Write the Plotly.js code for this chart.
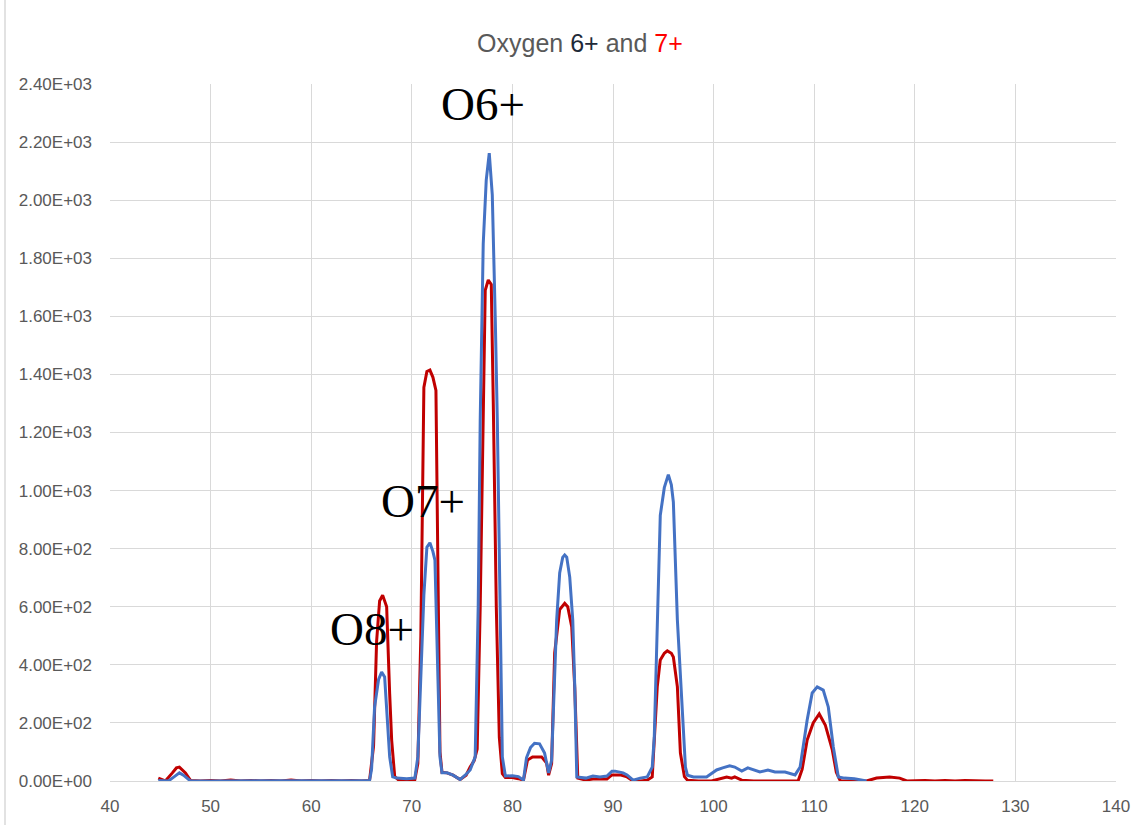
<!DOCTYPE html>
<html>
<head>
<meta charset="utf-8">
<script src="https://cdn.plot.ly/plotly-3.0.1.min.js"></script>
<style>
  html, body { margin: 0; padding: 0; background: #ffffff; }
  #chart { width: 1135px; height: 825px; }
</style>
</head>
<body>
<div id="chart"></div>
<script>
// O7+ (red) series
const xO7 = [44.8,45.5,46.2,46.6,46.9,47.5,48.0,49,50,51,52,53,54,55,56,57,58,59,60,61,62,63,64,65,65.8,
  66.2,66.5,66.8,67.1,67.5,67.8,68.0,68.3,68.7,69.5,70.3,70.6,70.9,71.2,71.5,71.8,72.1,72.4,72.6,72.8,73.0,
  73.5,74.1,74.8,75.4,75.8,76.2,76.5,76.8,77.0,77.3,77.6,77.9,78.1,78.4,78.7,79.0,79.3,80.0,80.6,81.1,
  81.5,82.0,82.9,83.4,83.6,83.9,84.2,84.7,85.2,85.5,85.9,86.2,86.5,87.3,88.0,89.4,89.9,90.7,91.4,92.0,
  92.7,93.4,93.9,94.4,94.7,95.1,95.4,95.8,96.0,96.4,96.7,97.1,97.4,98.5,99.8,100.8,101.3,101.8,102.1,
  102.8,104,106,108.4,108.8,109.3,109.9,110.5,111.1,111.8,112.2,112.6,114,115.2,116.2,117.5,118.5,119.2,
  121,122,123,124,125,126,127,127.8];
const yO7 = [10,0,28,45,48,28,2,0,2,0,3,0,2,0,2,0,3,0,2,0,2,0,2,0,2,
  120,480,620,640,600,300,140,15,3,2,5,60,500,1355,1410,1415,1390,1345,600,100,30,
  28,20,5,20,48,70,110,600,1100,1690,1725,1710,1300,600,150,25,12,12,8,3,
  72,83,83,62,20,60,440,590,612,600,530,320,10,3,7,7,21,21,14,0,
  0,3,14,324,417,440,448,440,427,324,96,15,3,0,0,10,14,10,14,
  3,0,0,0,40,141,200,231,193,107,30,0,0,0,10,14,10,0,
  2,0,2,0,2,0,0,0];

// O6+ (blue) series
const xO6 = [44.8,45.8,46.4,46.9,47.3,47.7,48.0,50,55,60,65,65.8,66.0,66.3,66.7,67.0,67.3,67.6,67.8,68.1,
  68.5,69.5,70.3,70.6,70.9,71.2,71.5,71.8,72.1,72.3,72.6,72.8,73.0,73.5,74.1,74.8,75.3,75.8,76.3,76.6,
  76.8,77.0,77.1,77.4,77.7,78.0,78.1,78.3,78.5,78.7,79.0,79.3,80.0,80.6,81.1,81.4,81.8,82.2,82.7,83.2,
  83.6,83.9,84.1,84.4,84.7,85.0,85.2,85.4,85.7,86.0,86.2,86.4,87.3,88.0,88.7,89.4,89.9,90.2,91.0,91.4,
  92.0,92.7,93.4,93.9,94.1,94.4,94.7,95.1,95.5,95.8,96.0,96.4,96.9,97.2,97.4,98.0,99.3,100.3,100.9,
  101.6,102.1,102.8,103.4,104.0,104.6,105.4,106.1,107.1,108.1,108.6,109.3,109.8,110.3,110.9,111.4,
  111.9,112.4,113.0,114.0,115.2];
const yO6 = [2,0,15,28,20,7,0,0,0,0,0,2,40,255,350,375,358,200,83,14,
  10,8,10,83,350,640,805,820,790,760,350,83,28,28,20,5,20,38,83,600,
  1243,1587,1850,2069,2162,2018,1897,1587,1243,700,83,17,18,15,3,80,115,130,128,96,
  28,72,250,554,716,770,778,771,702,554,324,14,10,17,14,17,34,34,28,21,
  3,10,14,48,150,554,915,1010,1055,1020,960,554,210,48,20,14,14,38,45,
  52,48,34,45,38,31,38,31,31,21,48,210,303,324,313,255,
  117,14,10,8,0];

const yTickVals = [0,200,400,600,800,1000,1200,1400,1600,1800,2000,2200,2400];
const xTickVals = [40,50,60,70,80,90,100,110,120,130,140];

const peakLabels = ['O6+','O7+','O8+'];
const peakLabelX = [77.1, 71.1, 66.0];
const peakLabelY = [2330, 965, 525];

function sci(v) {
  const s = v.toExponential(2).toUpperCase();
  const m = s.match(/^(-?[\d.]+)E([+-])(\d+)$/);
  return m[1] + 'E' + m[2] + (m[3].length < 2 ? '0' + m[3] : m[3]);
}
const yTickText = yTickVals.map(sci);

const traces = [
  {x: xO7, y: yO7, type: 'scatter', mode: 'lines', name: 'O7+',
   line: {color: '#c00000', width: 3}},
  {x: xO6, y: yO6, type: 'scatter', mode: 'lines', name: 'O6+',
   line: {color: '#4472c4', width: 3}}
];

const layout = {
  width: 1135, height: 825,
  paper_bgcolor: '#ffffff', plot_bgcolor: '#ffffff',
  margin: {l: 110, r: 19, t: 84, b: 44},
  showlegend: false,
  font: {family: 'Liberation Sans, Arial, sans-serif', color: '#595959', size: 17},
  title: {
    text: 'Oxygen <span style="color:#1f2a38">6+</span> and <span style="color:#ff0000">7+</span>',
    font: {family: 'Liberation Sans, Arial, sans-serif', size: 25, color: '#595959'},
    x: 0.511, xref: 'container', xanchor: 'center',
    y: 1 - 43/825, yref: 'container', yanchor: 'middle'
  },
  xaxis: {
    range: [40, 140], tickmode: 'array', tickvals: xTickVals,
    showgrid: true, gridcolor: '#d9d9d9', gridwidth: 1,
    showline: true, linecolor: '#d9d9d9', linewidth: 1,
    zeroline: false, ticks: '', ticklabelstandoff: 10,
    tickfont: {size: 17, color: '#595959'}
  },
  yaxis: {
    range: [0, 2400], tickmode: 'array', tickvals: yTickVals, ticktext: yTickText,
    showgrid: true, gridcolor: '#d9d9d9', gridwidth: 1,
    showline: false, zeroline: false, ticks: '', ticklabelstandoff: 17,
    tickfont: {size: 17, color: '#595959'}
  },
  annotations: peakLabels.map((t, i) => ({
    x: peakLabelX[i], y: peakLabelY[i], xref: 'x', yref: 'y',
    text: t, showarrow: false, xanchor: 'center', yanchor: 'middle',
    font: {family: 'Liberation Serif, Times New Roman, serif', size: 47, color: '#000000'}
  })),
  shapes: [
    {type: 'line', xref: 'paper', yref: 'paper',
     x0: (5 - 110) / 1006, x1: (5 - 110) / 1006, y0: -44/697, y1: 1 + 84/697,
     line: {color: '#d9d9d9', width: 1.5}}
  ]
};

Plotly.newPlot('chart', traces, layout, {displayModeBar: false, staticPlot: true});
</script>
</body>
</html>
